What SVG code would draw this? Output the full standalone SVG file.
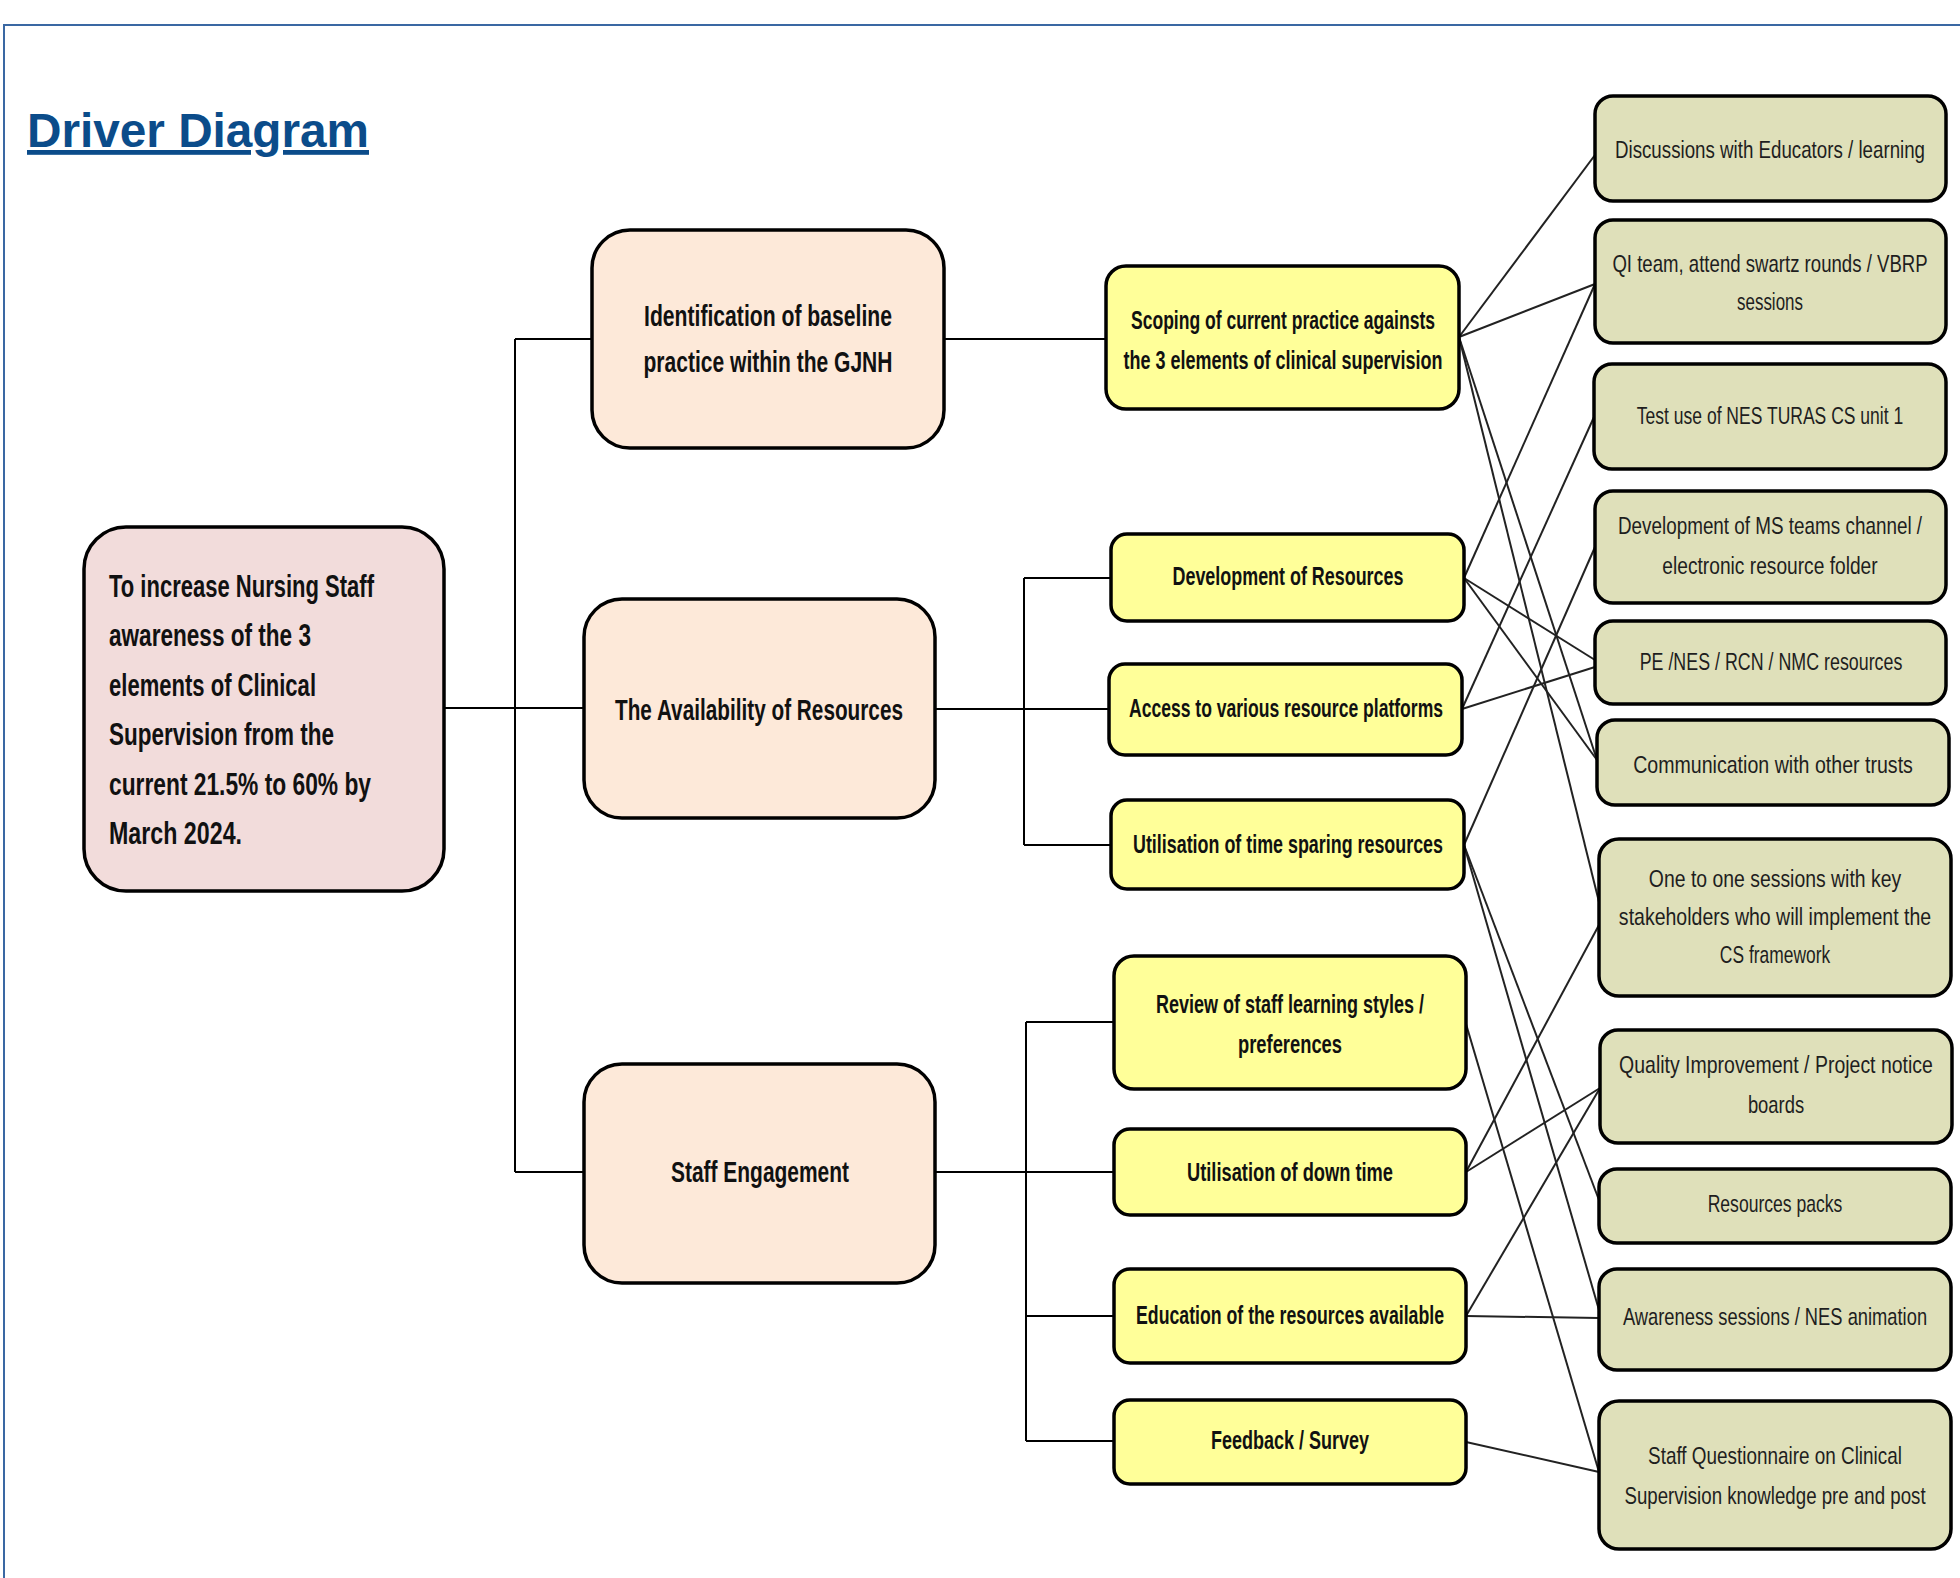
<svg xmlns="http://www.w3.org/2000/svg" width="1960" height="1578" viewBox="0 0 1960 1578">
<style>
.frame{fill:none;stroke:#3A68A3;stroke-width:2}
.title{font-family:"Liberation Sans",Arial,sans-serif;font-weight:bold;font-size:48px;fill:#0B4C8A;text-decoration:underline}
.box{stroke:#000;stroke-width:3.5}
.goal{fill:#F2DCDB}
.drv{fill:#FDE9D9}
.sec{fill:#FFFF99}
.chg{fill:#DFE0BA}
.b{font-family:"Liberation Sans",Arial,sans-serif;font-weight:bold;fill:#111}
.r{font-family:"Liberation Sans",Arial,sans-serif;fill:#1E1E1E;font-size:24px;text-anchor:middle}
.c{text-anchor:middle}
.tree line{stroke:#000;stroke-width:2}
.cross line{stroke:#222;stroke-width:2}
</style>
<rect x="0" y="0" width="1960" height="1578" fill="#fff"/>
<rect class="frame" x="4" y="25" width="1990" height="1600"/>
<text class="title" x="27" y="147" textLength="342" lengthAdjust="spacingAndGlyphs">Driver Diagram</text>

<g id="connectors">
 <g class="tree">
  <line x1="444" y1="708" x2="584" y2="708"/>
  <line x1="515" y1="339" x2="515" y2="1172"/>
  <line x1="515" y1="339" x2="592" y2="339"/>
  <line x1="515" y1="1172" x2="584" y2="1172"/>
  <line x1="944" y1="339" x2="1106" y2="339"/>
  <line x1="935" y1="709" x2="1109" y2="709"/>
  <line x1="1024" y1="578" x2="1024" y2="845"/>
  <line x1="1024" y1="578" x2="1111" y2="578"/>
  <line x1="1024" y1="845" x2="1111" y2="845"/>
  <line x1="935" y1="1172" x2="1114" y2="1172"/>
  <line x1="1026" y1="1022" x2="1026" y2="1441"/>
  <line x1="1026" y1="1022" x2="1114" y2="1022"/>
  <line x1="1026" y1="1316" x2="1114" y2="1316"/>
  <line x1="1026" y1="1441" x2="1114" y2="1441"/>
 </g>
 <g class="cross">
  <line x1="1459" y1="337" x2="1595" y2="155"/>
  <line x1="1459" y1="337" x2="1595" y2="284"/>
  <line x1="1459" y1="337" x2="1597" y2="760"/>
  <line x1="1459" y1="337" x2="1599" y2="902"/>
  <line x1="1464" y1="578" x2="1595" y2="284"/>
  <line x1="1464" y1="578" x2="1595" y2="660"/>
  <line x1="1464" y1="578" x2="1597" y2="760"/>
  <line x1="1462" y1="709" x2="1594" y2="417"/>
  <line x1="1462" y1="709" x2="1595" y2="667"/>
  <line x1="1464" y1="845" x2="1595" y2="547"/>
  <line x1="1464" y1="845" x2="1599" y2="1200"/>
  <line x1="1464" y1="845" x2="1599" y2="1310"/>
  <line x1="1466" y1="1024" x2="1599" y2="1472"/>
  <line x1="1466" y1="1172" x2="1599" y2="925"/>
  <line x1="1466" y1="1172" x2="1600" y2="1088"/>
  <line x1="1466" y1="1316" x2="1600" y2="1088"/>
  <line x1="1466" y1="1316" x2="1599" y2="1318"/>
  <line x1="1466" y1="1442" x2="1599" y2="1472"/>
 </g>
</g>

<g id="goal">
 <rect class="box goal" x="84" y="527" width="360" height="364" rx="42"/>
 <g class="b" font-size="32">
  <text x="109" y="597" textLength="265" lengthAdjust="spacingAndGlyphs">To increase Nursing Staff</text>
  <text x="109" y="646" textLength="202" lengthAdjust="spacingAndGlyphs">awareness of the 3</text>
  <text x="109" y="696" textLength="207" lengthAdjust="spacingAndGlyphs">elements of Clinical</text>
  <text x="109" y="745" textLength="225" lengthAdjust="spacingAndGlyphs">Supervision from the</text>
  <text x="109" y="795" textLength="262" lengthAdjust="spacingAndGlyphs">current 21.5% to 60% by</text>
  <text x="109" y="844" textLength="133" lengthAdjust="spacingAndGlyphs">March 2024.</text>
 </g>
</g>

<g id="driver-identification">
 <rect class="box drv" x="592" y="230" width="352" height="218" rx="38"/>
 <text class="b c" font-size="30" x="768" y="326" textLength="248" lengthAdjust="spacingAndGlyphs">Identification of baseline</text>
 <text class="b c" font-size="30" x="768" y="372" textLength="249" lengthAdjust="spacingAndGlyphs">practice within the GJNH</text>
</g>
<g id="driver-availability">
 <rect class="box drv" x="584" y="599" width="351" height="219" rx="38"/>
 <text class="b c" font-size="30" x="759" y="720" textLength="288" lengthAdjust="spacingAndGlyphs">The Availability of Resources</text>
</g>
<g id="driver-engagement">
 <rect class="box drv" x="584" y="1064" width="351" height="219" rx="38"/>
 <text class="b c" font-size="30" x="760" y="1182" textLength="178" lengthAdjust="spacingAndGlyphs">Staff Engagement</text>
</g>

<g id="sec-scoping">
 <rect class="box sec" x="1106" y="266" width="353" height="143" rx="20"/>
 <text class="b c" font-size="25" x="1283" y="329" textLength="304" lengthAdjust="spacingAndGlyphs">Scoping of current practice againsts</text>
 <text class="b c" font-size="25" x="1283" y="369" textLength="319" lengthAdjust="spacingAndGlyphs">the 3 elements of clinical supervision</text>
</g>
<g id="sec-development">
 <rect class="box sec" x="1111" y="534" width="353" height="87" rx="16"/>
 <text class="b c" font-size="25" x="1288" y="585" textLength="231" lengthAdjust="spacingAndGlyphs">Development of Resources</text>
</g>
<g id="sec-access">
 <rect class="box sec" x="1109" y="664" width="353" height="91" rx="16"/>
 <text class="b c" font-size="25" x="1286" y="717" textLength="314" lengthAdjust="spacingAndGlyphs">Access to various resource platforms</text>
</g>
<g id="sec-timesparing">
 <rect class="box sec" x="1111" y="800" width="353" height="89" rx="16"/>
 <text class="b c" font-size="25" x="1288" y="853" textLength="310" lengthAdjust="spacingAndGlyphs">Utilisation of time sparing resources</text>
</g>
<g id="sec-review">
 <rect class="box sec" x="1114" y="956" width="352" height="133" rx="20"/>
 <text class="b c" font-size="25" x="1290" y="1013" textLength="268" lengthAdjust="spacingAndGlyphs">Review of staff  learning styles /</text>
 <text class="b c" font-size="25" x="1290" y="1053" textLength="104" lengthAdjust="spacingAndGlyphs">preferences</text>
</g>
<g id="sec-downtime">
 <rect class="box sec" x="1114" y="1129" width="352" height="86" rx="16"/>
 <text class="b c" font-size="25" x="1290" y="1181" textLength="206" lengthAdjust="spacingAndGlyphs">Utilisation of down time</text>
</g>
<g id="sec-education">
 <rect class="box sec" x="1114" y="1269" width="352" height="94" rx="16"/>
 <text class="b c" font-size="25" x="1290" y="1324" textLength="308" lengthAdjust="spacingAndGlyphs">Education of the resources available</text>
</g>
<g id="sec-feedback">
 <rect class="box sec" x="1114" y="1400" width="352" height="84" rx="16"/>
 <text class="b c" font-size="25" x="1290" y="1449" textLength="158" lengthAdjust="spacingAndGlyphs">Feedback / Survey</text>
</g>

<g id="chg-discussions">
 <rect class="box chg" x="1595" y="96" width="351" height="105" rx="18"/>
 <text class="r" transform="translate(1770,158) scale(0.74,1)" textLength="419" lengthAdjust="spacingAndGlyphs">Discussions with Educators / learning</text>
</g>
<g id="chg-qi">
 <rect class="box chg" x="1595" y="220" width="351" height="123" rx="18"/>
 <text class="r" transform="translate(1770,272) scale(0.74,1)" textLength="426" lengthAdjust="spacingAndGlyphs">QI team, attend swartz rounds / VBRP</text>
 <text class="r" transform="translate(1770,310) scale(0.74,1)" textLength="89" lengthAdjust="spacingAndGlyphs">sessions</text>
</g>
<g id="chg-turas">
 <rect class="box chg" x="1594" y="364" width="352" height="105" rx="18"/>
 <text class="r" transform="translate(1770,424) scale(0.74,1)" textLength="360" lengthAdjust="spacingAndGlyphs">Test use of NES TURAS CS unit 1</text>
</g>
<g id="chg-msteams">
 <rect class="box chg" x="1595" y="491" width="351" height="112" rx="18"/>
 <text class="r" transform="translate(1770,534) scale(0.74,1)" textLength="411" lengthAdjust="spacingAndGlyphs">Development of MS teams channel /</text>
 <text class="r" transform="translate(1770,574) scale(0.74,1)" textLength="291" lengthAdjust="spacingAndGlyphs">electronic resource folder</text>
</g>
<g id="chg-pe">
 <rect class="box chg" x="1595" y="621" width="351" height="83" rx="18"/>
 <text class="r" transform="translate(1771,670) scale(0.74,1)" textLength="355" lengthAdjust="spacingAndGlyphs">PE /NES / RCN / NMC resources</text>
</g>
<g id="chg-communication">
 <rect class="box chg" x="1597" y="720" width="352" height="85" rx="18"/>
 <text class="r" transform="translate(1773,773) scale(0.74,1)" textLength="378" lengthAdjust="spacingAndGlyphs">Communication with other trusts</text>
</g>
<g id="chg-onetoone">
 <rect class="box chg" x="1599" y="839" width="352" height="157" rx="20"/>
 <text class="r" transform="translate(1775,887) scale(0.74,1)" textLength="341" lengthAdjust="spacingAndGlyphs">One to one sessions with key</text>
 <text class="r" transform="translate(1775,925) scale(0.74,1)" textLength="422" lengthAdjust="spacingAndGlyphs">stakeholders who will implement the</text>
 <text class="r" transform="translate(1775,963) scale(0.74,1)" textLength="149" lengthAdjust="spacingAndGlyphs">CS framework</text>
</g>
<g id="chg-qiboards">
 <rect class="box chg" x="1600" y="1030" width="352" height="113" rx="18"/>
 <text class="r" transform="translate(1776,1073) scale(0.74,1)" textLength="424" lengthAdjust="spacingAndGlyphs">Quality Improvement / Project notice</text>
 <text class="r" transform="translate(1776,1113) scale(0.74,1)" textLength="76" lengthAdjust="spacingAndGlyphs">boards</text>
</g>
<g id="chg-packs">
 <rect class="box chg" x="1599" y="1169" width="352" height="74" rx="18"/>
 <text class="r" transform="translate(1775,1212) scale(0.74,1)" textLength="182" lengthAdjust="spacingAndGlyphs">Resources packs</text>
</g>
<g id="chg-awareness">
 <rect class="box chg" x="1599" y="1269" width="352" height="101" rx="18"/>
 <text class="r" transform="translate(1775,1325) scale(0.74,1)" textLength="411" lengthAdjust="spacingAndGlyphs">Awareness  sessions / NES animation</text>
</g>
<g id="chg-questionnaire">
 <rect class="box chg" x="1599" y="1401" width="352" height="148" rx="20"/>
 <text class="r" transform="translate(1775,1464) scale(0.74,1)" textLength="343" lengthAdjust="spacingAndGlyphs">Staff Questionnaire on Clinical</text>
 <text class="r" transform="translate(1775,1504) scale(0.74,1)" textLength="407" lengthAdjust="spacingAndGlyphs">Supervision knowledge pre and post</text>
</g>
</svg>
